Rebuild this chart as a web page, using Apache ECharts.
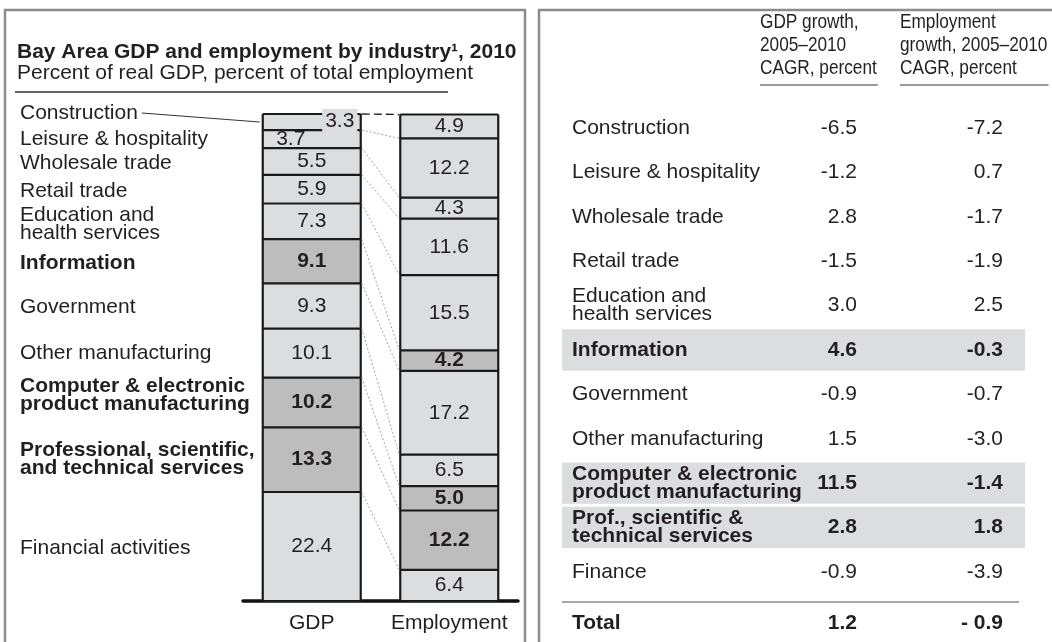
<!DOCTYPE html>
<html>
<head>
<meta charset="utf-8">
<title>Bay Area GDP and employment by industry, 2010</title>
<script src="https://cdn.jsdelivr.net/npm/echarts@6/dist/echarts.min.js"></script>
<style>
  html, body { margin: 0; padding: 0; background: #ffffff; }
  #chart { width: 1052px; height: 642px; }
</style>
</head>
<body>
<div id="chart"></div>
<script>
// ---------- data ----------
// Industries, listed from the top of each stack down
const industries = [
  'Construction', 'Leisure & hospitality', 'Wholesale trade', 'Retail trade',
  'Education and\nhealth services', 'Information', 'Government', 'Other manufacturing',
  'Computer & electronic\nproduct manufacturing', 'Professional, scientific,\nand technical services',
  'Financial activities'
];
const barCategories = ['GDP', 'Employment'];
// Share of real GDP and of total employment, percent
const gdpShare = [3.3, 3.7, 5.5, 5.9, 7.3, 9.1, 9.3, 10.1, 10.2, 13.3, 22.4];
const empShare = [4.9, 12.2, 4.3, 11.6, 15.5, 4.2, 17.2, 6.5, 5.0, 12.2, 6.4];
// Industries emphasised in darker grey and bold type
const highlighted = [false, false, false, false, false, true, false, false, true, true, false];

// Growth table, 2005-2010 CAGR, percent
const tableRows = [
  'Construction', 'Leisure & hospitality', 'Wholesale trade', 'Retail trade',
  'Education and\nhealth services', 'Information', 'Government', 'Other manufacturing',
  'Computer & electronic\nproduct manufacturing', 'Prof., scientific &\ntechnical services', 'Finance'
];
const gdpGrowth = [-6.5, -1.2, 2.8, -1.5, 3.0, 4.6, -0.9, 1.5, 11.5, 2.8, -0.9];
const empGrowth = [-7.2, 0.7, -1.7, -1.9, 2.5, -0.3, -0.7, -3.0, -1.4, 1.8, -3.9];
const totalLabel = ['Total'];
const totalGdpGrowth = [1.2];
const totalEmpGrowth = [-0.9];
const tableHeaders = [
  ['GDP growth,', '2005\u20132010', 'CAGR, percent'],
  ['Employment', 'growth, 2005\u20132010', 'CAGR, percent']
];

// ---------- style ----------
const FONT = '"Liberation Sans", Arial, Helvetica, sans-serif';
const INK = '#231f20';
const LIGHT = '#dcdddf';
const DARK = '#bdbdbe';
const EDGE = '#1a1a1a';
const FRAME = '#8c8c8c';
const FS = 21;
const BAR_W = 98;
const EDGE_W = 2.2;
const LABEL_X = 20;
// small vertical nudges (px) for the industry names beside the GDP bar
const nameNudge = { 0: -9, 2: 2, 3: 2, 4: 3, 5: 2, 6: 1, 8: -7, 10: 2 };
// label tweaks on the GDP bar for the two thin top segments: [dx, dy, boxed]
const gdpLabelTweak = { 0: [28, -1, true], 1: [-21, 0, false] };
// table columns (px)
const TBL = { left: 562, width: 463, labelX: 572, gdpRight: 857, empRight: 1003, hdr1: 760, hdr2: 900 };
const NARROW = 0.82;

const measureCtx = document.createElement('canvas').getContext('2d');
function textWidth(str, font) { measureCtx.font = font; return measureCtx.measureText(str).width; }
function fmt(v) { return v.toFixed(1); }
function fmtTotal(v) { return v < 0 ? '- ' + Math.abs(v).toFixed(1) : v.toFixed(1); }
function fontOf(bold) { return (bold ? 'bold ' : '') + FS + 'px ' + FONT; }

// top edge of each industry's segment, measured from the bottom of its stack
function stackTops(values) {
  const tops = new Array(values.length);
  let acc = 0;
  for (let i = values.length - 1; i >= 0; i--) { acc += values[i]; tops[i] = acc; }
  return tops;
}
const gdpTops = stackTops(gdpShare);
const empTops = stackTops(empShare);
const stackMax = Math.max(gdpTops[0], empTops[0]);

// ---------- series ----------
const series = [];

// stacked bars, bottom segment first
for (let i = industries.length - 1; i >= 0; i--) {
  const fill = highlighted[i] ? DARK : LIGHT;
  series.push({
    type: 'bar', name: industries[i], stack: 'share',
    xAxisIndex: 0, yAxisIndex: 0, barWidth: BAR_W, silent: true,
    itemStyle: { color: fill, borderWidth: 0 },
    data: [gdpShare[i], empShare[i]]
  });
}

// segment outlines and the connectors between matching edges of the two bars
const edgeData = industries.map((_, k) => [0, gdpTops[k], empTops[k], k]);
edgeData.push([0, 0, 0, industries.length]);
series.push({
  type: 'custom', xAxisIndex: 0, yAxisIndex: 0, silent: true, z: 3,
  encode: { x: 0, y: 1 },
  data: edgeData,
  renderItem: (params, api) => {
    const k = api.value(3);
    const a = api.coord([0, api.value(1)]);
    const b = api.coord([1, api.value(2)]);
    const h = BAR_W / 2;
    const edge = { stroke: EDGE, lineWidth: EDGE_W };
    const children = [
      { type: 'line', shape: { x1: a[0] - h, y1: a[1], x2: a[0] + h, y2: a[1] }, style: edge },
      { type: 'line', shape: { x1: b[0] - h, y1: b[1], x2: b[0] + h, y2: b[1] }, style: edge }
    ];
    if (k < industries.length) {
      const top = k === 0;
      children.push({
        type: 'line',
        shape: { x1: a[0] + h + 1, y1: a[1], x2: b[0] - h - 1, y2: b[1] },
        style: top
          ? { stroke: '#222', lineWidth: 1.4, lineDash: [8, 4] }
          : { stroke: '#8a8a8a', lineWidth: 0.8, lineDash: [2, 2] }
      });
    }
    if (k === 0) {
      const a0 = api.coord([0, 0]);
      const b0 = api.coord([1, 0]);
      [[a, a0], [b, b0]].forEach(([t, btm]) => {
        children.push({ type: 'line', shape: { x1: t[0] - h, y1: t[1], x2: btm[0] - h, y2: btm[1] }, style: edge });
        children.push({ type: 'line', shape: { x1: t[0] + h, y1: t[1], x2: btm[0] + h, y2: btm[1] }, style: edge });
      });
    }
    return { type: 'group', children: children };
  }
});

// value labels inside the segments
const valueData = [];
industries.forEach((_, i) => {
  valueData.push([0, gdpTops[i] - gdpShare[i] / 2, i, gdpShare[i]]);
  valueData.push([1, empTops[i] - empShare[i] / 2, i, empShare[i]]);
});
series.push({
  type: 'custom', xAxisIndex: 0, yAxisIndex: 0, silent: true, z: 4,
  encode: { x: 0, y: 1 },
  data: valueData,
  renderItem: (params, api) => {
    const bar = api.value(0);
    const i = api.value(2);
    const p = api.coord([bar, api.value(1)]);
    const tweak = bar === 0 ? gdpLabelTweak[i] : null;
    const style = {
      text: fmt(api.value(3)), x: p[0] + (tweak ? tweak[0] : 0), y: p[1] + (tweak ? tweak[1] : 0),
      font: fontOf(highlighted[i]), fill: INK, align: 'center', verticalAlign: 'middle'
    };
    if (tweak && tweak[2]) {
      style.backgroundColor = LIGHT;
      style.padding = [3, 3, 0, 3];
    }
    return { type: 'text', style: style };
  }
});

// industry names beside the GDP bar
series.push({
  type: 'custom', xAxisIndex: 0, yAxisIndex: 0, silent: true, z: 4,
  encode: { x: 0, y: 1 },
  data: industries.map((_, i) => [0, gdpTops[i] - gdpShare[i] / 2, i]),
  renderItem: (params, api) => {
    const i = api.value(2);
    const p = api.coord([0, api.value(1)]);
    const y = p[1] + (nameNudge[i] || 0);
    const font = fontOf(highlighted[i]);
    const children = [{
      type: 'text',
      style: { text: industries[i], x: LABEL_X, y: y, font: font, fill: INK,
               align: 'left', verticalAlign: 'middle', lineHeight: 18 }
    }];
    if (i === 0) {
      const w = textWidth(industries[i], font);
      children.push({
        type: 'line',
        shape: { x1: LABEL_X + w + 4, y1: y, x2: p[0] - BAR_W / 2 - 3, y2: p[1] },
        style: { stroke: '#333', lineWidth: 1 }
      });
    }
    return { type: 'group', children: children };
  }
});

// shaded rows of the growth table
series.push({
  type: 'bar', xAxisIndex: 1, yAxisIndex: 1, silent: true, barWidth: '93%', z: 1,
  itemStyle: { color: LIGHT },
  data: highlighted.map(h => h ? 1 : '-')
});

// growth table text
function tableRow(api, label, g, e, bold, idxY, totalRow) {
  const y = api.coord([0, idxY])[1];
  const font = fontOf(bold);
  const f = totalRow ? fmtTotal : fmt;
  return {
    type: 'group',
    children: [
      { type: 'text', style: { text: label, x: TBL.labelX, y: y, font: font, fill: INK,
          align: 'left', verticalAlign: 'middle', lineHeight: 18 } },
      { type: 'text', style: { text: f(g), x: TBL.gdpRight, y: y, font: font, fill: INK,
          align: 'right', verticalAlign: 'middle' } },
      { type: 'text', style: { text: f(e), x: TBL.empRight, y: y, font: font, fill: INK,
          align: 'right', verticalAlign: 'middle' } }
    ]
  };
}
series.push({
  type: 'custom', xAxisIndex: 1, yAxisIndex: 1, silent: true, z: 3,
  encode: { x: 0, y: 1 },
  data: tableRows.map((_, i) => [0, i]),
  renderItem: (params, api) => {
    const i = api.value(1);
    return tableRow(api, tableRows[i], gdpGrowth[i], empGrowth[i], highlighted[i], i, false);
  }
});
series.push({
  type: 'custom', xAxisIndex: 2, yAxisIndex: 2, silent: true, z: 3,
  encode: { x: 0, y: 1 },
  data: totalLabel.map((_, i) => [0, i]),
  renderItem: (params, api) => {
    const i = api.value(1);
    return tableRow(api, totalLabel[i], totalGdpGrowth[i], totalEmpGrowth[i], true, i, true);
  }
});

// ---------- decorations: frames, titles, table headings ----------
const graphic = [
  { type: 'rect', shape: { x: 5, y: 10, width: 520, height: 700 }, silent: true,
    style: { fill: 'none', stroke: FRAME, lineWidth: 2.5 } },
  { type: 'rect', shape: { x: 539, y: 10, width: 600, height: 700 }, silent: true,
    style: { fill: 'none', stroke: FRAME, lineWidth: 2.5 } },
  { type: 'text', x: 17, y: 52, silent: true,
    style: { text: 'Bay Area GDP and employment by industry\u00b9, 2010', font: fontOf(true),
             fill: INK, align: 'left', verticalAlign: 'middle' } },
  { type: 'text', x: 17, y: 73, silent: true,
    style: { text: 'Percent of real GDP, percent of total employment', font: fontOf(false),
             fill: INK, align: 'left', verticalAlign: 'middle' } },
  { type: 'line', shape: { x1: 15, y1: 92, x2: 448, y2: 92 }, silent: true,
    style: { stroke: '#333', lineWidth: 1.5 } },
  { type: 'line', shape: { x1: TBL.left, y1: 602, x2: 1019, y2: 602 }, silent: true,
    style: { stroke: '#8a8a8a', lineWidth: 1.5 } }
];
const headerX = [TBL.hdr1, TBL.hdr2];
const headerY = [22, 45, 68];
tableHeaders.forEach((lines, c) => {
  let maxW = 0;
  lines.forEach((line, r) => {
    maxW = Math.max(maxW, textWidth(line, fontOf(false)) * NARROW);
    graphic.push({
      type: 'text', x: headerX[c], y: headerY[r], scaleX: NARROW, silent: true,
      style: { text: line, font: fontOf(false), fill: INK, align: 'left', verticalAlign: 'middle' }
    });
  });
  graphic.push({
    type: 'line', silent: true,
    shape: { x1: headerX[c], y1: 85, x2: headerX[c] + maxW + 1, y2: 85 },
    style: { stroke: '#333', lineWidth: 1.2 }
  });
});

const option = {
  animation: false,
  backgroundColor: '#ffffff',
  grid: [
    { left: 243, top: 114, width: 275, height: 487 },
    { left: TBL.left, top: 106, width: TBL.width, height: 488 },
    { left: TBL.left, top: 604, width: TBL.width, height: 44 }
  ],
  xAxis: [
    { gridIndex: 0, type: 'category', data: barCategories,
      axisLine: { lineStyle: { color: '#111', width: 3.5 } },
      axisTick: { show: false },
      axisLabel: { interval: 0, fontFamily: FONT, fontSize: FS, color: INK, margin: 12 } },
    { gridIndex: 1, type: 'value', min: 0, max: 1, show: false },
    { gridIndex: 2, type: 'value', min: 0, max: 1, show: false }
  ],
  yAxis: [
    { gridIndex: 0, type: 'value', min: 0, max: stackMax, show: false, splitLine: { show: false } },
    { gridIndex: 1, type: 'category', data: tableRows, inverse: true, show: false },
    { gridIndex: 2, type: 'category', data: totalLabel, inverse: true, show: false }
  ],
  graphic: graphic,
  series: series
};

const chart = echarts.init(document.getElementById('chart'));
chart.setOption(option);
</script>
</body>
</html>
